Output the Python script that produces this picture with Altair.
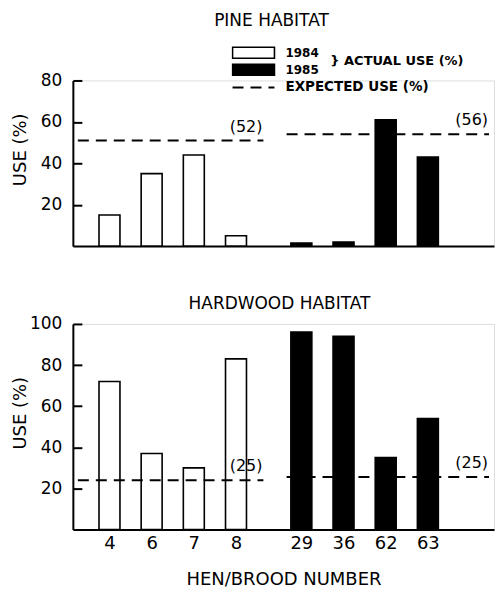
import json
import altair as alt
import pandas as pd

# ---- data ----
hens = ["4", "6", "7", "8", "29", "36", "62", "63"]
years = ["1984", "1984", "1984", "1984", "1985", "1985", "1985", "1985"]
pine_use = [15, 35, 44, 5, 1.5, 2, 61, 43]
hardwood_use = [72, 37, 30, 83, 96, 94, 35, 54]

exp_years = ["1984", "1985"]
pine_expected = [51, 54]
pine_expected_label = ["(52)", "(56)"]
hardwood_expected = [24, 25.5]
hardwood_expected_label = ["(25)", "(25)"]

# ---- layout constants ----
FONT = "DejaVu Sans"
GAP = 0.55          # extra space between the 1984 and 1985 groups (in bar steps)
X_MIN, X_MAX = -0.75, 9.0
W = 422
H_TOP, H_BOT = 166, 206
TICK = 9

slots = [round(i + (GAP if y == "1985" else 0), 2) for i, y in enumerate(years)]
last84 = max(s for s, y in zip(slots, years) if y == "1984")
first85 = min(s for s, y in zip(slots, years) if y == "1985")
seg_start = {"1984": X_MIN, "1985": first85 - 0.35}
seg_end = {"1984": last84 + 0.65, "1985": X_MAX}

label_expr = "{}[indexof({}, datum.value)]".format(json.dumps(hens), json.dumps(slots))


def panel(values, exp_vals, exp_labels, ymax, height, title, title_dx, title_offset,
          bottom, legends):
    bars_df = pd.DataFrame({"hen": hens, "year": years, "slot": slots, "use": values})
    exp_df = pd.DataFrame({
        "year": exp_years,
        "value": exp_vals,
        "label": exp_labels,
        "x0": [seg_start[y] for y in exp_years],
        "x1": [seg_end[y] for y in exp_years],
        "kind": ["EXPECTED USE (%)"] * len(exp_years),
    })
    xscale = alt.Scale(domain=[X_MIN, X_MAX], nice=False, zero=False)
    yscale = alt.Scale(domain=[0, ymax], nice=False)
    ticks = list(range(20, ymax + 1, 20))

    if bottom:
        xaxis = alt.Axis(values=slots, labelExpr=label_expr, ticks=False, tickSize=0,
                         labelPadding=5, labelFontSize=18, labelFont=FONT,
                         labelColor="black", grid=False, domainWidth=2,
                         domainColor="black", title="HEN/BROOD NUMBER",
                         titleFontSize=18, titleFont=FONT, titleFontWeight="normal",
                         titleColor="black", titlePadding=18)
    else:
        xaxis = alt.Axis(labels=False, ticks=False, tickSize=0, grid=False,
                         domainWidth=2, domainColor="black", title=None)

    # y axis drawn on the right orient but moved to the left edge, so that its
    # ticks point into the plot as in the original figure
    yaxis = alt.Axis(orient="right", offset=-W, values=ticks, ticks=True,
                     tickSize=TICK, tickWidth=2, tickColor="black", tickOpacity=1,
                     labelAlign="right", labelPadding=-(TICK + 11),
                     labelFontSize=17, labelFont=FONT, labelColor="black",
                     grid=False, domainWidth=2, domainColor="black",
                     title="USE (%)", titleFontSize=18, titleFont=FONT,
                     titleFontWeight="normal", titleColor="black", titleAngle=270,
                     titleX=-52, titleY=height / 2 - 14, titleBaseline="middle",
                     titleAlign="center")

    if legends:
        fill_legend = alt.Legend(
            orient="none", legendX=159, legendY=-36, title="}  ACTUAL USE (%)",
            titleOrient="right", titleFontSize=13, titleFont=FONT, titleFontWeight="bold",
            titleColor="black", titlePadding=12, titleBaseline="middle",
            symbolType="M-1,-0.26H1V0.26H-1Z", symbolSize=1764,
            symbolStrokeColor="black", symbolStrokeWidth=1.6, clipHeight=16.5,
            labelFontSize=12, labelFont=FONT, labelFontWeight="bold",
            labelColor="black", labelOffset=10, padding=0, rowPadding=0,
        )
        dash_legend = alt.Legend(
            orient="none", legendX=159, legendY=-1, title=None,
            symbolType="stroke", symbolSize=1764, symbolStrokeColor="black",
            symbolStrokeWidth=2, clipHeight=16, labelFontSize=13.5, labelFont=FONT,
            labelFontWeight="bold", labelColor="black", labelOffset=10, padding=0,
        )
    else:
        fill_legend = None
        dash_legend = None

    bars = alt.Chart(bars_df).mark_bar(orient="vertical", width=21, stroke="black",
                                       strokeWidth=1.6).encode(
        x=alt.X("slot:Q", scale=xscale, axis=xaxis),
        y=alt.Y("use:Q", scale=yscale, axis=yaxis),
        fill=alt.Fill("year:N", scale=alt.Scale(domain=["1984", "1985"],
                                                range=["white", "black"]),
                      legend=fill_legend),
    )
    rules = alt.Chart(exp_df).mark_rule(strokeWidth=2, color="black").encode(
        x=alt.X("x0:Q", scale=xscale),
        x2="x1:Q",
        y=alt.Y("value:Q", scale=yscale),
        strokeDash=alt.StrokeDash("kind:N", scale=alt.Scale(range=[[11, 7]]),
                                  legend=dash_legend),
    )
    labels = alt.Chart(exp_df).mark_text(align="right", baseline="middle", dy=-14,
                                         dx=-1, fontSize=16, font=FONT,
                                         color="black").encode(
        x=alt.X("x1:Q", scale=xscale),
        y=alt.Y("value:Q", scale=yscale),
        text="label:N",
    )
    return alt.layer(bars, rules, labels).properties(
        width=W, height=height,
        title=alt.TitleParams(title, fontSize=17, font=FONT, fontWeight="normal",
                              color="black", anchor="middle", dx=title_dx,
                              offset=title_offset),
    )


top = panel(pine_use, pine_expected, pine_expected_label, 80, H_TOP, "PINE HABITAT",
            -12, 15, bottom=False, legends=True)
bot = panel(hardwood_use, hardwood_expected, hardwood_expected_label, 100, H_BOT,
            "HARDWOOD HABITAT", -4, 2, bottom=True, legends=False)

chart = alt.vconcat(top, bot, spacing=46).resolve_scale(
    fill="independent", strokeDash="independent"
).resolve_legend(fill="independent", strokeDash="independent").properties(
    padding={"left": 3, "top": 2, "right": 0, "bottom": 0}
).configure_view(strokeWidth=0, strokeOpacity=0).configure(background="white")

chart.save("out.html", embed_options={"renderer": "svg", "actions": False})
